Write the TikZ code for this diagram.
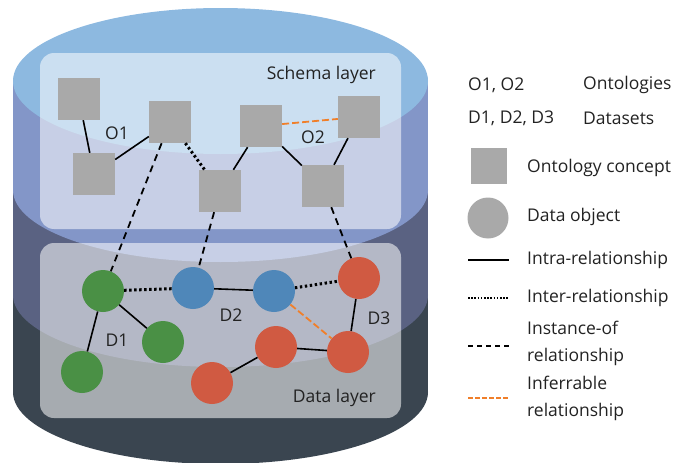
\documentclass[tikz,border=0pt]{standalone}
\usepackage{fontspec}
\setmainfont{Open Sans}
\usetikzlibrary{positioning}
\definecolor{capblue}{HTML}{8DB9E0}
\definecolor{bandone}{HTML}{8396C8}
\definecolor{bandtwo}{HTML}{5A6282}
\definecolor{bandthree}{HTML}{3A4550}
\definecolor{conceptgray}{HTML}{A9A9A9}
\definecolor{dgreen}{HTML}{4A9045}
\definecolor{dblue}{HTML}{4F87B9}
\definecolor{dred}{HTML}{D05A42}
\definecolor{inforange}{HTML}{F07F2A}
\definecolor{txt}{HTML}{222222}
\tikzset{
  concept/.style={rectangle, fill=conceptgray, minimum size=42pt, inner sep=0pt},
  dataobj/.style={circle, minimum size=42pt, inner sep=0pt},
  layerbox/.style={rounded corners=14pt, fill=white, fill opacity=0.55},
  lbl/.style={text=txt, font=\fontsize{17.5}{20}\selectfont, inner sep=0pt},
  legtext/.style={text=txt, font=\fontsize{17.5}{27}\selectfont, inner sep=0pt, anchor=west, align=left},
  intra/.style={line width=1.6pt, black},
  inter/.style={line width=3pt, black, dash pattern=on 2.4pt off 2.6pt},
  instance/.style={line width=1.8pt, black, dash pattern=on 7pt off 5pt},
  infer/.style={line width=1.8pt, inforange, dash pattern=on 7pt off 3pt},
}
\begin{document}
\begin{tikzpicture}[x=1pt, y=-1pt]
\useasboundingbox (0,0) rectangle (678,463);

% cylinder, drawn bottom band first
\fill[bandthree] (13,295) rectangle (428,392);
\fill[bandthree] (220.5,392) ellipse [x radius=207.5, y radius=72];
\fill[bandtwo] (13,190) rectangle (428,295);
\fill[bandtwo] (220.5,295) ellipse [x radius=207.5, y radius=72];
\fill[bandone] (13,81) rectangle (428,190);
\fill[bandone] (220.5,190) ellipse [x radius=207.5, y radius=72];
\fill[capblue] (220.5,81) ellipse [x radius=207.5, y radius=73];

% layers
\fill[layerbox] (40,53) rectangle (401,229);
\fill[layerbox] (40,243) rectangle (401,418);
\node[lbl, anchor=east] (schema) at (376,75) {Schema layer};
\node[lbl, anchor=east] (datalayer) at (376,398) {Data layer};

% ontology concepts
\node[concept] (s1) at (79,99) {};
\node[concept] (s2) at (94,174) {};
\node[concept] (s3) at (170,122) {};
\node[concept] (s4) at (220,191) {};
\node[concept] (s5) at (261,126) {};
\node[concept] (s6) at (359,117) {};
\node[concept] (s7) at (323,186) {};

% data objects
\node[dataobj, fill=dgreen] (g1) at (103,291) {};
\node[dataobj, fill=dgreen] (g2) at (163,342) {};
\node[dataobj, fill=dgreen] (g3) at (82,372) {};
\node[dataobj, fill=dblue] (b1) at (193,288) {};
\node[dataobj, fill=dblue] (b2) at (274,291) {};
\node[dataobj, fill=dred] (r1) at (359,278) {};
\node[dataobj, fill=dred] (r2) at (348,352) {};
\node[dataobj, fill=dred] (r3) at (276,347) {};
\node[dataobj, fill=dred] (r4) at (212,383) {};

% group labels
\node[lbl] (o1) at (117,133) {O1};
\node[lbl] (o2) at (313,137) {O2};
\node[lbl] (d1) at (117,340) {D1};
\node[lbl] (d2) at (231,315) {D2};
\node[lbl] (d3) at (379,318) {D3};

% relationships in the schema layer
\draw[intra] (s1) -- (s2);
\draw[intra] (s2) -- (s3);
\draw[inter] (s3) -- (s4);
\draw[intra] (s4) -- (s5);
\draw[intra] (s5) -- (s7);
\draw[intra] (s6) -- (s7);
\draw[infer] (s5) -- (s6);

% instance-of links
\draw[instance] (s3) -- (g1);
\draw[instance] (s4) -- (b1);
\draw[instance] (s7) -- (r1);

% relationships in the data layer
\draw[intra] (g1) -- (g2);
\draw[intra] (g1) -- (g3);
\draw[inter] (g1) -- (b1);
\draw[intra] (b1) -- (b2);
\draw[inter] (b2) -- (r1);
\draw[infer] (b2) -- (r2);
\draw[intra] (r1) -- (r2);
\draw[intra] (r2) -- (r3);
\draw[intra] (r3) -- (r4);

% legend
\node[legtext] (k1) at (468,85) {O1, O2};
\node[legtext] (v1) at (583,85) {Ontologies};
\node[legtext] (k2) at (468,118) {D1, D2, D3};
\node[legtext] (v2) at (583,118) {Datasets};
\node[concept, minimum size=36pt] (kc) at (489,166) {};
\node[legtext] (vc) at (527,168) {Ontology concept};
\node[dataobj, fill=conceptgray, minimum size=41pt] (ko) at (488,218) {};
\node[legtext] (vo) at (527,217) {Data object};

\coordinate (la1) at (468,260); \coordinate (lb1) at (509,260);
\draw[intra] (la1) -- (lb1);
\node[legtext] (vi) at (527,260) {Intra-relationship};

\coordinate (la2) at (468,298); \coordinate (lb2) at (509,298);
\draw[black, line width=1.6pt, dash pattern=on 1.6pt off 1.6pt] (la2) -- (lb2);
\node[legtext] (ve) at (527,298) {Inter-relationship};

\coordinate (la3) at (468,346); \coordinate (lb3) at (509,346);
\draw[black, line width=1.4pt, dash pattern=on 5pt off 4pt] (la3) -- (lb3);
\node[legtext] (vn) at (527,343) {Instance-of\\relationship};

\coordinate (la4) at (468,398); \coordinate (lb4) at (509,398);
\draw[inforange, line width=1.4pt, dash pattern=on 5pt off 2pt] (la4) -- (lb4);
\node[legtext] (vf) at (527,398) {Inferrable\\relationship};
\end{tikzpicture}
\end{document}
